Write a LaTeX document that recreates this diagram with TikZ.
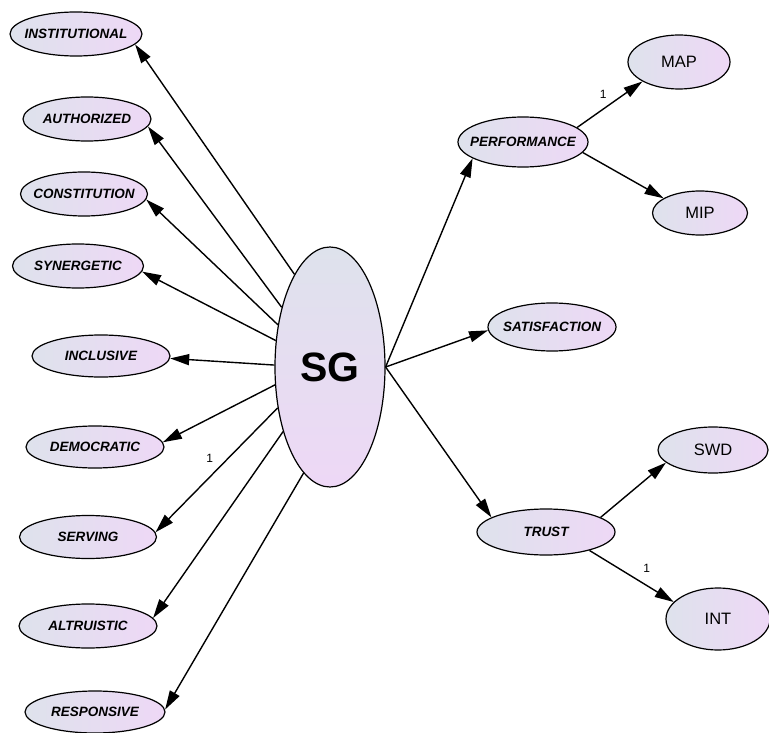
\documentclass[tikz,border=0pt]{standalone}
\usepackage{fontspec}
\setmainfont{Liberation Sans}
\usetikzlibrary{shapes.geometric,arrows.meta}

\definecolor{shadeL}{RGB}{222,226,236}
\definecolor{shadeR}{RGB}{238,216,246}

\tikzset{
  blob/.style={ellipse, draw=black, line width=1.2pt, inner ysep=0pt,
    inner xsep=-8pt, left color=shadeL, right color=shadeR},
  factor/.style={blob, font=\fontsize{13.5}{15}\selectfont\bfseries\itshape},
  indic/.style={blob, font=\fontsize{16.5}{18}\selectfont},
  link/.style={line width=1.4pt, -{Triangle[length=19pt,width=11pt]}},
  wlabel/.style={font=\fontsize{12}{13}\selectfont, inner sep=0pt}
}

\begin{document}
\begin{tikzpicture}[x=1pt,y=-1pt]
\useasboundingbox (0,0) rectangle (769,733);

% central construct
\node[ellipse, draw=black, line width=1.2pt, inner sep=0pt,
      top color=shadeL, bottom color=shadeR,
      minimum width=110pt, minimum height=240pt,
      font=\fontsize{41}{44}\selectfont\bfseries] (sg) at (330,367) {SG};

% left-hand dimensions
\node[factor, minimum width=132pt, minimum height=44pt] (inst) at (76,34)  {INSTITUTIONAL};
\node[factor, minimum width=128pt, minimum height=44pt] (auth) at (87,119) {AUTHORIZED};
\node[factor, minimum width=127pt, minimum height=44pt] (cons) at (84,194) {CONSTITUTION};
\node[factor, minimum width=131pt, minimum height=44pt] (syn)  at (78,266) {SYNERGETIC};
\node[factor, minimum width=138pt, minimum height=42pt] (incl) at (101,356) {INCLUSIVE};
\node[factor, minimum width=138pt, minimum height=42pt] (dem)  at (95,447) {DEMOCRATIC};
\node[factor, minimum width=137pt, minimum height=43pt] (serv) at (88,537) {SERVING};
\node[factor, minimum width=138pt, minimum height=44pt] (alt)  at (88,626) {ALTRUISTIC};
\node[factor, minimum width=140pt, minimum height=42pt] (resp) at (95,712) {RESPONSIVE};

% right-hand outcomes
\node[factor, minimum width=130pt, minimum height=50pt] (perf) at (523,142) {PERFORMANCE};
\node[factor, minimum width=128pt, minimum height=48pt] (sat)  at (552,327) {SATISFACTION};
\node[factor, minimum width=138pt, minimum height=46pt] (trust) at (546,532) {TRUST};

% observed indicators
\node[indic, minimum width=102pt, minimum height=54pt] (map) at (679,62)  {MAP};
\node[indic, minimum width=95pt,  minimum height=44pt] (mip) at (700,213) {MIP};
\node[indic, minimum width=110pt, minimum height=46pt] (swd) at (713,450) {SWD};
\node[indic, minimum width=104pt, minimum height=62pt] (int) at (718,619) {INT};

% paths from SG to its dimensions
\draw[link] (sg.111) -- (inst.-10);
\draw[link] (sg.129) -- (auth.-7);
\draw[link] (sg.141) -- (cons.-5);
\draw[link] (sg.154) -- (syn.-5);
\draw[link] (sg.178) -- (incl.-2);
\draw[link] (sg.198) -- (dem.4);
\draw[link] (sg.218) -- node[wlabel, pos=0.45, xshift=-13pt, yshift=5pt] {1} (serv.4);
\draw[link] (sg.234) -- (alt.7);
\draw[link] (sg.256) -- (resp.2);

% paths from SG to the outcomes
\draw[link] (sg.east) -- (perf.198);
\draw[link] (sg.east) -- (sat.183);
\draw[link] (sg.east) -- (trust.165);

% measurement paths
\draw[link] (perf.15) -- node[wlabel, pos=0.4, yshift=15pt] {1} (map.208);
\draw[link] (perf.-10) -- (mip.158);
\draw[link] (trust.15) -- (swd.195);
\draw[link] (trust.-23) -- node[wlabel, pos=0.55, above right=3pt, xshift=4pt, yshift=3pt] {1} (int.159);
\end{tikzpicture}
\end{document}
